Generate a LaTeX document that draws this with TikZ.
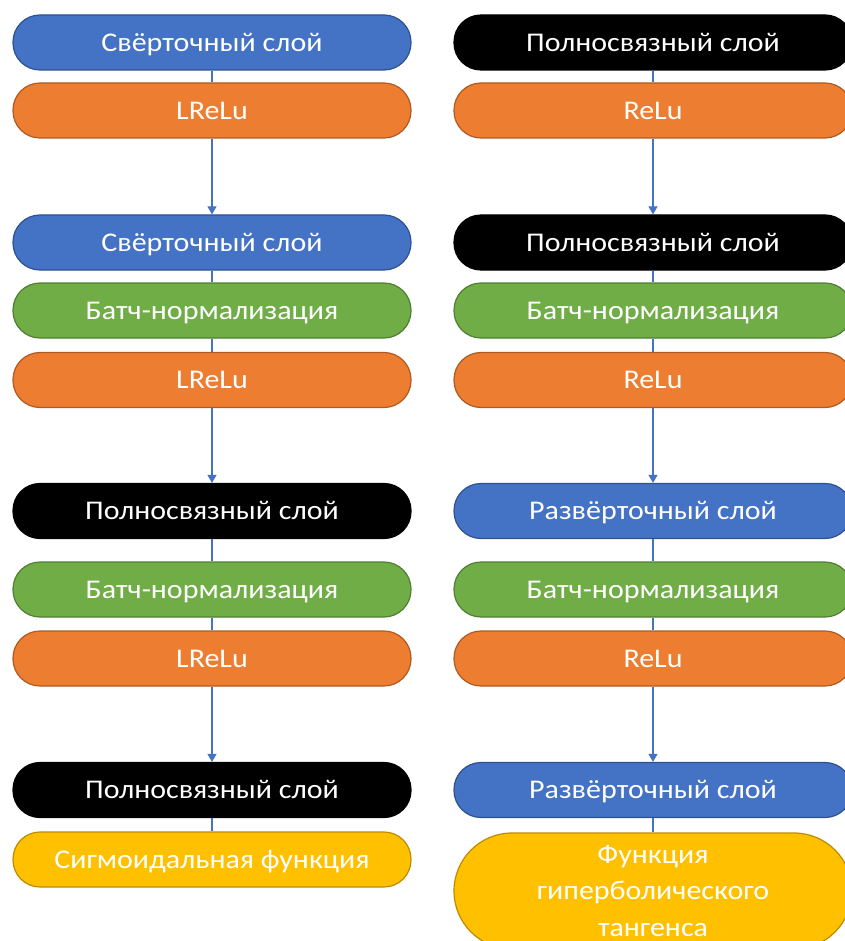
\documentclass[tikz,border=0pt]{standalone}
\usepackage{fontspec}
\setmainfont{Carlito}[FakeStretch=1.11]
\usetikzlibrary{arrows.meta}
\definecolor{cblue}{HTML}{4472C4}
\definecolor{cblueb}{HTML}{2F528F}
\definecolor{corange}{HTML}{ED7D31}
\definecolor{coranb}{HTML}{AE5A21}
\definecolor{cgreen}{HTML}{70AD47}
\definecolor{cgreenb}{HTML}{507E32}
\definecolor{cgold}{HTML}{FFC000}
\definecolor{cgoldb}{HTML}{BC8C00}
\definecolor{clink}{HTML}{4472C4}
\tikzset{
  layer/.style={rounded corners=27pt, minimum width=398pt, minimum height=55pt,
    inner sep=0pt, text=white, line width=1.2pt,
    font=\fontsize{27}{32}\selectfont, text height=17.4pt, text depth=0pt},
  conv/.style={layer, fill=cblue, draw=cblueb},
  act/.style={layer, fill=corange, draw=coranb},
  bn/.style={layer, fill=cgreen, draw=cgreenb},
  fc/.style={layer, fill=black, draw=black},
  outf/.style={layer, fill=cgold, draw=cgoldb},
  link/.style={draw=clink, line width=1.2pt},
  arr/.style={link, -{Triangle[width=9pt,length=8pt]}}
}
\begin{document}
\begin{tikzpicture}[x=1pt,y=-1pt]
\useasboundingbox (0,0) rectangle (844,941);
\path
 (212,42.5) coordinate (L1c) (212,110.5) coordinate (L2c) (212,242.5) coordinate (L3c)
 (212,310.5) coordinate (L4c) (212,380) coordinate (L5c) (212,511) coordinate (L6c)
 (212,589.5) coordinate (L7c) (212,658.5) coordinate (L8c) (212,790) coordinate (L9c)
 (212,859.5) coordinate (L10c)
 (653,42.5) coordinate (R1c) (653,110.5) coordinate (R2c) (653,242.5) coordinate (R3c)
 (653,310.5) coordinate (R4c) (653,380) coordinate (R5c) (653,511) coordinate (R6c)
 (653,589.5) coordinate (R7c) (653,658.5) coordinate (R8c) (653,790) coordinate (R9c)
 (653,891) coordinate (R10c);

\node[conv] (L1) at (L1c) {Свёрточный слой};
\node[act]  (L2) at (L2c) {LReLu};
\node[conv] (L3) at (L3c) {Свёрточный слой};
\node[bn]   (L4) at (L4c) {Батч-нормализация};
\node[act]  (L5) at (L5c) {LReLu};
\node[fc]   (L6) at (L6c) {Полносвязный слой};
\node[bn]   (L7) at (L7c) {Батч-нормализация};
\node[act]  (L8) at (L8c) {LReLu};
\node[fc]   (L9) at (L9c) {Полносвязный слой};
\node[outf] (L10) at (L10c) {Сигмоидальная функция};

\node[fc]   (R1) at (R1c) {Полносвязный слой};
\node[act]  (R2) at (R2c) {ReLu};
\node[fc]   (R3) at (R3c) {Полносвязный слой};
\node[bn]   (R4) at (R4c) {Батч-нормализация};
\node[act]  (R5) at (R5c) {ReLu};
\node[conv] (R6) at (R6c) {Развёрточный слой};
\node[bn]   (R7) at (R7c) {Батч-нормализация};
\node[act]  (R8) at (R8c) {ReLu};
\node[conv] (R9) at (R9c) {Развёрточный слой};
\node[outf, minimum height=116pt, rounded corners=58pt, text height=, text depth=,
  align=center, font=\fontsize{27}{36.5}\selectfont] (R10) at (R10c)
  {Функция\\гиперболического\\тангенса};

\foreach \a/\b in {L1/L2,L3/L4,L4/L5,L6/L7,L7/L8,L9/L10,R1/R2,R3/R4,R4/R5,R6/R7,R7/R8,R9/R10}
  \draw[link] (\a.south) -- (\b.north);
\foreach \a/\b in {L2/L3,L5/L6,L8/L9,R2/R3,R5/R6,R8/R9}
  \draw[arr] (\a.south) -- (\b.north);
\end{tikzpicture}
\end{document}
